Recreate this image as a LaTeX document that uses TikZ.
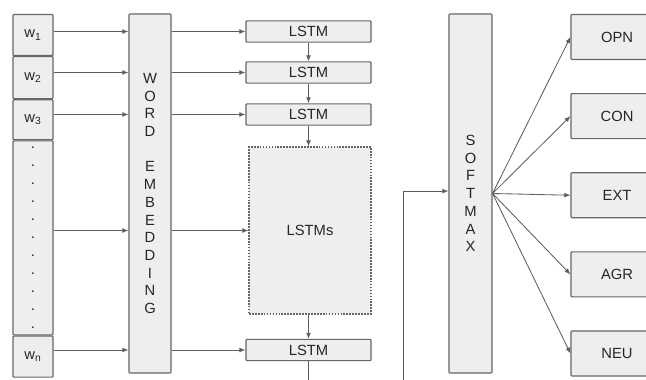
\documentclass[tikz,border=0pt]{standalone}
\usepackage{fontspec}
\setmainfont{Liberation Sans}
\usetikzlibrary{arrows.meta,positioning,calc}
\definecolor{CajaGris}{HTML}{EEEEEE}
\definecolor{BordeGris}{HTML}{666666}
\definecolor{LineaGris}{HTML}{5E5E5E}
\definecolor{TextoGris}{HTML}{262626}
\tikzset{
  palabrabox/.style={draw=BordeGris, line width=0.8pt, rounded corners=0.6pt, fill=CajaGris,
    align=center, minimum width=1.0cm, minimum height=#1, inner sep=0pt,
    font=\fontsize{10.5}{12.8}\selectfont, text=TextoGris},
  palabrabox/.default=1.025cm,
  columnabox/.style={draw=BordeGris, line width=0.8pt, rounded corners=0.6pt, fill=CajaGris,
    align=center, minimum width=#1, minimum height=8.975cm, inner sep=0pt,
    font=\fontsize{10.5}{12.6}\selectfont, text=TextoGris},
  columnabox/.default=1.05cm,
  lstmbox/.style={draw=BordeGris, line width=0.8pt, rounded corners=0.6pt, fill=CajaGris,
    minimum width=3.125cm, minimum height=0.53cm, inner sep=0pt,
    font=\fontsize{10.5}{12}\selectfont, text=TextoGris},
  lstmsbox/.style={draw=BordeGris, line width=0.8pt, dash pattern=on 1.2pt off 0.9pt, fill=CajaGris,
    minimum width=3.05cm, minimum height=4.175cm, inner sep=0pt,
    font=\fontsize{10.5}{12}\selectfont, text=TextoGris},
  rasgobox/.style={draw=BordeGris, line width=0.8pt, rounded corners=0.6pt, fill=CajaGris,
    minimum width=2.3cm, minimum height=1.125cm, inner sep=0pt,
    font=\fontsize{10.5}{12}\selectfont, text=TextoGris},
  flecha/.style={-{Latex[length=1.5mm, width=1.2mm]}, line width=0.6pt, LineaGris},
}
\begin{document}
\begin{tikzpicture}
  \useasboundingbox (0,0) rectangle (16.15,-9.475);
  \clip (0,0) rectangle (16.15,-9.475);
  % ---- palabras ----
  \node[palabrabox, anchor=north] (w1) at (0.825,-0.35) {w\textsubscript{1}};
  \node[palabrabox=1.05cm, below=0pt of w1] (w2) {w\textsubscript{2}};
  \node[palabrabox=1.0cm, below=0pt of w2] (w3) {w\textsubscript{3}};
  \node[palabrabox=4.85cm, below=0pt of w3] (wd) {.\\.\\.\\.\\.\\.\\.\\.\\.\\.\\.};
  \node[palabrabox, below=0pt of wd] (wn) {w\textsubscript{n}};
  % ---- columnas ----
  \node[columnabox] (emb) at (3.75,-4.8375) {W\\O\\R\\D\\[12.6pt]E\\M\\B\\E\\D\\D\\I\\N\\G};
  \node[columnabox=1.075cm] (soft) at (11.7625,-4.8375) {S\\O\\F\\T\\M\\A\\X};
  % ---- LSTM ----
  \node[lstmbox] (l1) at (7.7125,-0.7875) {LSTM};
  \node[lstmbox] (l2) at (7.7125,-1.8125) {LSTM};
  \node[lstmbox] (l3) at (7.7125,-2.8625) {LSTM};
  \node[lstmsbox] (ls) at (7.75,-5.7625) {LSTMs};
  \node[lstmbox] (ln) at (7.7125,-8.75) {LSTM};
  % ---- rasgos ----
  \node[rasgobox] (opn) at (15.425,-0.925) {OPN};
  \node[rasgobox, below=0.825cm of opn] (con) {CON};
  \node[rasgobox, below=0.825cm of con] (ext) {EXT};
  \node[rasgobox, below=0.825cm of ext] (agr) {AGR};
  \node[rasgobox, below=0.825cm of agr] (neu) {NEU};
  % ---- flechas ----
  \foreach \w/\l in {w1/l1, w2/l2, w3/l3, wd/ls, wn/ln} {
    \draw[flecha] (\w.east |- \l.west) -- (emb.west |- \l.west);
    \draw[flecha] (emb.east |- \l.west) -- (\l.west);
  }
  \draw[flecha] (l1) -- (l2);
  \draw[flecha] (l2) -- (l3);
  \draw[flecha] (l3.south) -- (l3.south |- ls.north);
  \draw[flecha] (l3.south |- ls.south) -- (ln.north);
  \draw[flecha] (ln.south) -- ++(0,-1) -| ([xshift=-1.125cm, yshift=0.06cm]soft.west)
    -- ([yshift=0.06cm]soft.west);
  \foreach \r in {opn, con, ext, agr, neu}
    \draw[flecha] (soft.east) -- (\r.west);
\end{tikzpicture}
\end{document}
